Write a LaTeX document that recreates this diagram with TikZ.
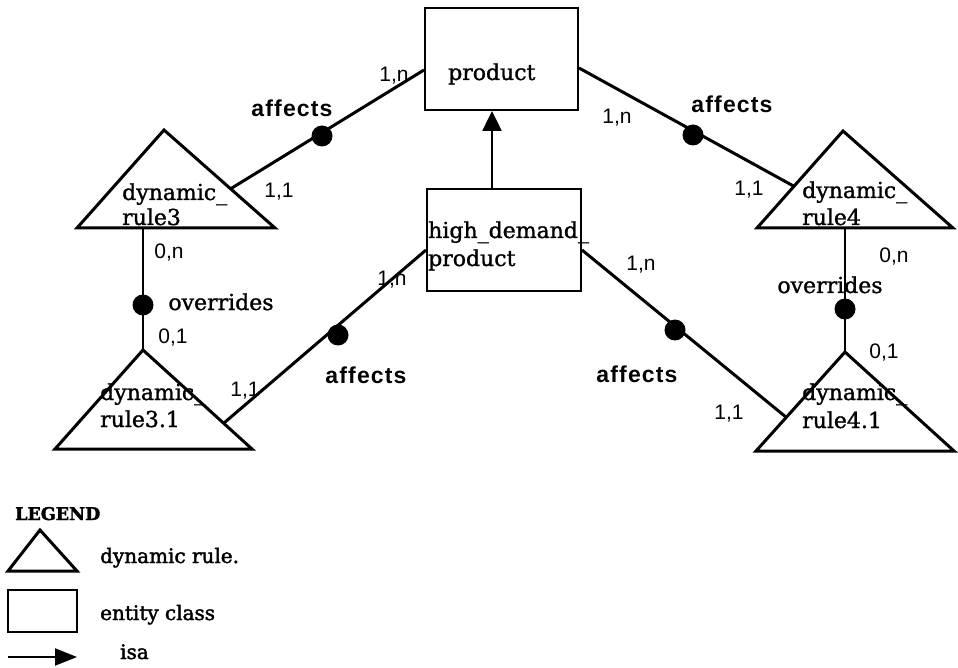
\documentclass[tikz,border=0pt]{standalone}
\usepackage{fontspec}
\usetikzlibrary{arrows.meta,calc}
\newfontfamily\slabfont[FakeBold=1.2]{DejaVu Serif}
\newfontfamily\legfont[FakeBold=2]{DejaVu Serif}
\newfontfamily\affont[LetterSpace=5]{Liberation Sans}
\newfontfamily\cardfont{Liberation Sans}
\tikzset{
  conn/.style={line width=3pt},
  ovr/.style={line width=2pt},
  box/.style={draw, line width=2pt, inner sep=0pt},
  tri/.style={draw, line width=3pt, line join=miter},
  dotnode/.style={circle, fill, inner sep=0pt, minimum size=21pt},
  slabtxt/.style={font=\slabfont\fontsize{22}{26}\selectfont, inner sep=0pt, anchor=base west},
  afftxt/.style={font=\affont\bfseries\fontsize{23}{27}\selectfont, inner sep=0pt, anchor=base},
  cardtxt/.style={font=\cardfont\fontsize{21}{25}\selectfont, inner sep=0pt, anchor=base},
  legtxt/.style={font=\legfont\fontsize{20}{24}\selectfont, inner sep=0pt, anchor=base west},
  isaarrow/.style={line width=2.5pt, -{Triangle[length=20pt,width=19pt]}},
}
\begin{document}
\begin{tikzpicture}[x=1pt,y=-1pt]
\useasboundingbox (0,0) rectangle (958,668);

% entity boxes
\node[box, minimum width=153pt, minimum height=102pt] (product) at (501.5,59) {};
\node[box, minimum width=154pt, minimum height=102pt] (hd) at (504,240) {};
\node[slabtxt] (productlbl) at (448,80) {product};
\node[slabtxt] (hdlbl1) at (428,238) {high\_demand\_};
\node[slabtxt] (hdlbl2) at (428,266) {product};

% isa arrow
\draw[isaarrow] ([xshift=66pt]hd.north west) -- ([xshift=68pt]product.south west);

% triangles (dynamic rules)
\coordinate (r3apex) at (164,130); \coordinate (r3left) at (77,228); \coordinate (r3right) at (275,228);
\coordinate (r4apex) at (843,131); \coordinate (r4left) at (757,228); \coordinate (r4right) at (953,228);
\coordinate (r31apex) at (143,350); \coordinate (r31left) at (55,449); \coordinate (r31right) at (252,449);
\coordinate (r41apex) at (845,352); \coordinate (r41left) at (756,451); \coordinate (r41right) at (954,451);
\draw[tri] (r3apex) -- (r3left) -- (r3right) -- cycle;
\draw[tri] (r4apex) -- (r4left) -- (r4right) -- cycle;
\draw[tri] (r31apex) -- (r31left) -- (r31right) -- cycle;
\draw[tri] (r41apex) -- (r41left) -- (r41right) -- cycle;

\node[slabtxt] (r3t1) at (122,200) {dynamic\_};
\node[slabtxt] (r3t2) at (122,225) {rule3};
\node[slabtxt] (r4t1) at (802,198) {dynamic\_};
\node[slabtxt] (r4t2) at (802,225) {rule4};
\node[slabtxt] (r31t1) at (100,400) {dynamic\_};
\node[slabtxt] (r31t2) at (100,427) {rule3.1};
\node[slabtxt] (r41t1) at (802,400) {dynamic\_};
\node[slabtxt] (r41t2) at (802,428) {rule4.1};

% affects connectors
\coordinate (r3e) at ($(r3apex)!0.6!(r3right)$);
\coordinate (r4e) at ($(r4apex)!0.57!(r4left)$);
\coordinate (r31e) at ($(r31apex)!0.74!(r31right)$);
\coordinate (r41e) at ($(r41apex)!0.66!(r41left)$);
\draw[conn] ([yshift=-11pt]product.west) -- (r3e);
\draw[conn] ([yshift=-9pt]product.east) -- (r4e);
\draw[conn] ([yshift=-10pt]hd.west) -- (r31e);
\draw[conn] ([yshift=-10pt]hd.east) -- (r41e);
\node[dotnode] (d1) at (322,136) {};
\node[dotnode] (d2) at (693,135) {};
\node[dotnode] (d3) at (338,335) {};
\node[dotnode] (d4) at (675,330) {};

% overrides connectors
\coordinate (r3b) at (143,228);
\coordinate (r4b) at (845,228);
\draw[ovr] (r3b) -- (r31apex);
\draw[ovr] (r4b) -- (r41apex);
\node[dotnode] (d5) at (143,305) {};
\node[dotnode] (d6) at (845,309) {};

% relationship labels
\node[afftxt] (a1) at (292,117) {affects};
\node[afftxt] (a2) at (732,113) {affects};
\node[afftxt] (a3) at (366,383) {affects};
\node[afftxt] (a4) at (637,382) {affects};
\node[slabtxt, anchor=base] (o1) at (221,310) {overrides};
\node[slabtxt, anchor=base] (o2) at (830,293) {overrides};

% cardinalities
\node[cardtxt] (c1) at (394,82) {1,n};
\node[cardtxt] (c2) at (279,198) {1,1};
\node[cardtxt] (c3) at (617,124) {1,n};
\node[cardtxt] (c4) at (749,196) {1,1};
\node[cardtxt] (c5) at (169,259) {0,n};
\node[cardtxt] (c6) at (173,343) {0,1};
\node[cardtxt] (c7) at (392,286) {1,n};
\node[cardtxt] (c8) at (245,396) {1,1};
\node[cardtxt] (c9) at (641,271) {1,n};
\node[cardtxt] (c10) at (729,419) {1,1};
\node[cardtxt] (c11) at (894,263) {0,n};
\node[cardtxt] (c12) at (884,358) {0,1};

% legend
\node[font=\legfont\bfseries\fontsize{17.5}{20}\selectfont, inner sep=0pt, anchor=base west] (legend) at (15,520) {LEGEND};
\coordinate (lta) at (40,530); \coordinate (ltl) at (8,571); \coordinate (ltr) at (77,571);
\draw[tri] (lta) -- (ltl) -- (ltr) -- cycle;
\node[legtxt] (l1) at (100,563) {dynamic rule.};
\node[draw, line width=2.5pt, minimum width=69pt, minimum height=42pt, inner sep=0pt] (lbox) at (42.5,611) {};
\node[legtxt] (l2) at (100,620) {entity class};
\coordinate (las) at (8,657); \coordinate (lae) at (77,657);
\draw[line width=2pt, -{Triangle[length=22pt,width=17pt]}] (las) -- (lae);
\node[legtxt] (l3) at (120,659) {isa};
\end{tikzpicture}
\end{document}
